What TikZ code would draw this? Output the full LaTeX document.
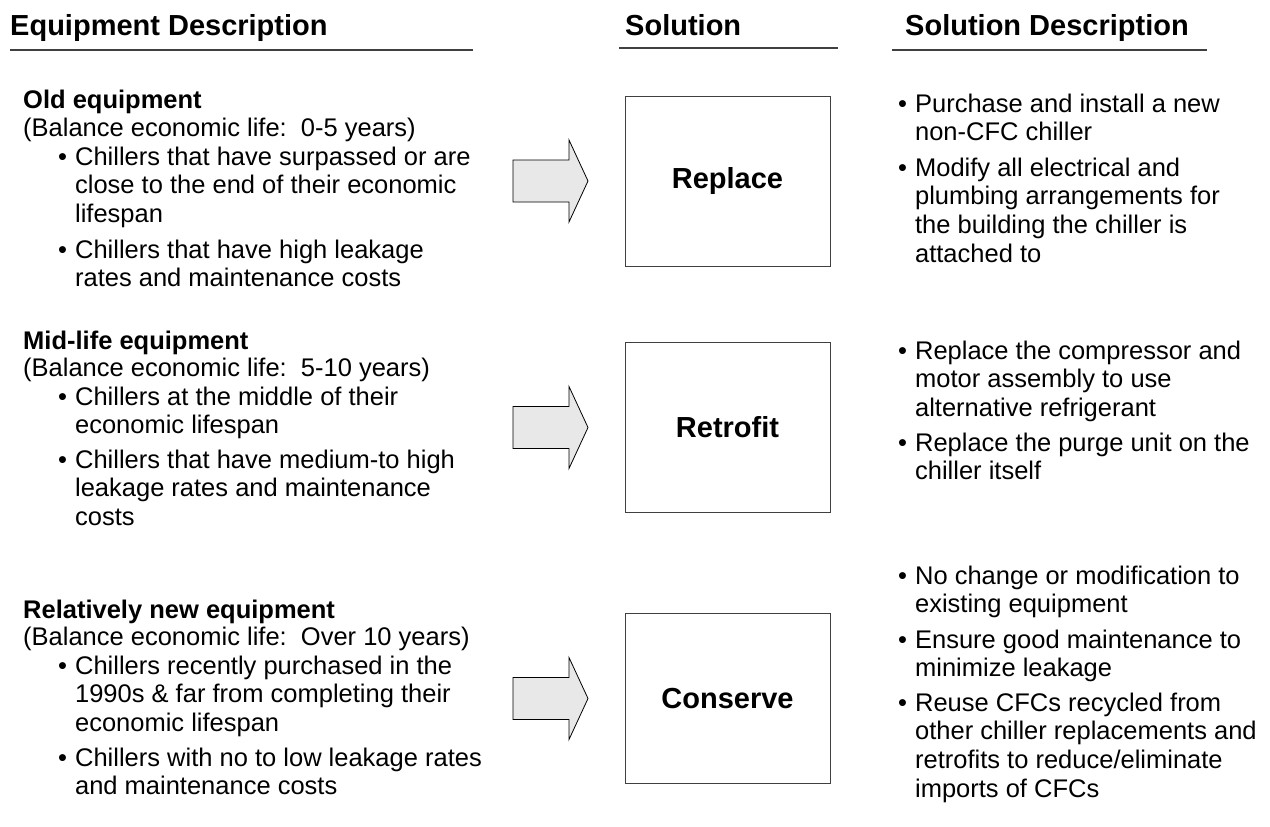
\documentclass[tikz,border=0pt]{standalone}
\usepackage{fontspec}
\setmainfont{Liberation Sans}
\begin{document}
\begin{tikzpicture}[x=1pt,y=-1pt,
  hdr/.style={anchor=base west,inner sep=0pt,font=\fontsize{29}{34}\selectfont\bfseries},
  rule/.style={draw=black!75,line width=1.3pt},
  txt/.style={anchor=base west,inner sep=0pt,font=\fontsize{25.5}{28.7}\selectfont},
  btxt/.style={anchor=base west,inner sep=0pt,font=\fontsize{25.5}{28.7}\selectfont\bfseries},
  solbox/.style={draw=black!75,line width=0.9pt,minimum width=205pt,minimum height=170pt,inner sep=0pt,font=\fontsize{29}{34}\selectfont\bfseries},
  blockarrow/.style={draw=black,line width=0.8pt,fill=black!9,line join=miter}]
\useasboundingbox (0,0) rectangle (1270,827);
\newcommand{\bl}[1]{\begin{tabular}[t]{@{}l@{\hspace{8pt}}l@{}}#1\end{tabular}}
% headers
\node[hdr] (h1) at (10,35) {Equipment Description};
\node[hdr] (h2) at (625,35) {Solution};
\node[hdr] (h3) at (905,35) {Solution Description};
\draw[rule] (10,50) -- (473,50);
\draw[rule] (619,48) -- (838,48);
\draw[rule] (892,50) -- (1207,50);
% boxes
\node[solbox] (b1) at (727.5,181) {Replace};
\node[solbox] (b2) at (727.5,427.5) {Retrofit};
\node[solbox] (b3) at (727.5,698.5) {Conserve};
% arrows
\foreach \c in {181,427.5,698.5}{
  \draw[blockarrow] (513,\c-21) -- (569,\c-21) -- (569,\c-41) -- (588,\c) -- (569,\c+41) -- (569,\c+21) -- (513,\c+21) -- cycle;
}
% left block 1
\node[btxt] (l1h) at (23,108) {Old equipment};
\node[txt] (l1s) at (23,136) {(Balance economic life:\ \ 0-5 years)};
\node[txt] (l1a) at (58,165) {\bl{•&Chillers that have surpassed or are\\&close to the end of their economic\\&lifespan}};
\node[txt] (l1b) at (58,258) {\bl{•&Chillers that have high leakage\\&rates and maintenance costs}};
% left block 2
\node[btxt] (l2h) at (23,349) {Mid-life equipment};
\node[txt] (l2s) at (23,376) {(Balance economic life:\ \ 5-10 years)};
\node[txt] (l2a) at (58,405) {\bl{•&Chillers at the middle of their\\&economic lifespan}};
\node[txt] (l2b) at (58,468) {\bl{•&Chillers that have medium-to high\\&leakage rates and maintenance\\&costs}};
% left block 3
\node[btxt] (l3h) at (23,618) {Relatively new equipment};
\node[txt] (l3s) at (23,645) {(Balance economic life:\ \ Over 10 years)};
\node[txt] (l3a) at (58,674) {\bl{•&Chillers recently purchased in the\\&1990s \& far from completing their\\&economic lifespan}};
\node[txt] (l3b) at (58,766) {\bl{•&Chillers with no to low leakage rates\\&and maintenance costs}};
% right block 1
\node[txt] (r1a) at (898,112) {\bl{•&Purchase and install a new\\&non-CFC chiller}};
\node[txt] (r1b) at (898,176) {\bl{•&Modify all electrical and\\&plumbing arrangements for\\&the building the chiller is\\&attached to}};
% right block 2
\node[txt] (r2a) at (898,359) {\bl{•&Replace the compressor and\\&motor assembly to use\\&alternative refrigerant}};
\node[txt] (r2b) at (898,451) {\bl{•&Replace the purge unit on the\\&chiller itself}};
% right block 3
\node[txt] (r3a) at (898,584) {\bl{•&No change or modification to\\&existing equipment}};
\node[txt] (r3b) at (898,648) {\bl{•&Ensure good maintenance to\\&minimize leakage}};
\node[txt] (r3c) at (898,711) {\bl{•&Reuse CFCs recycled from\\&other chiller replacements and\\&retrofits to reduce/eliminate\\&imports of CFCs}};
\end{tikzpicture}
\end{document}
